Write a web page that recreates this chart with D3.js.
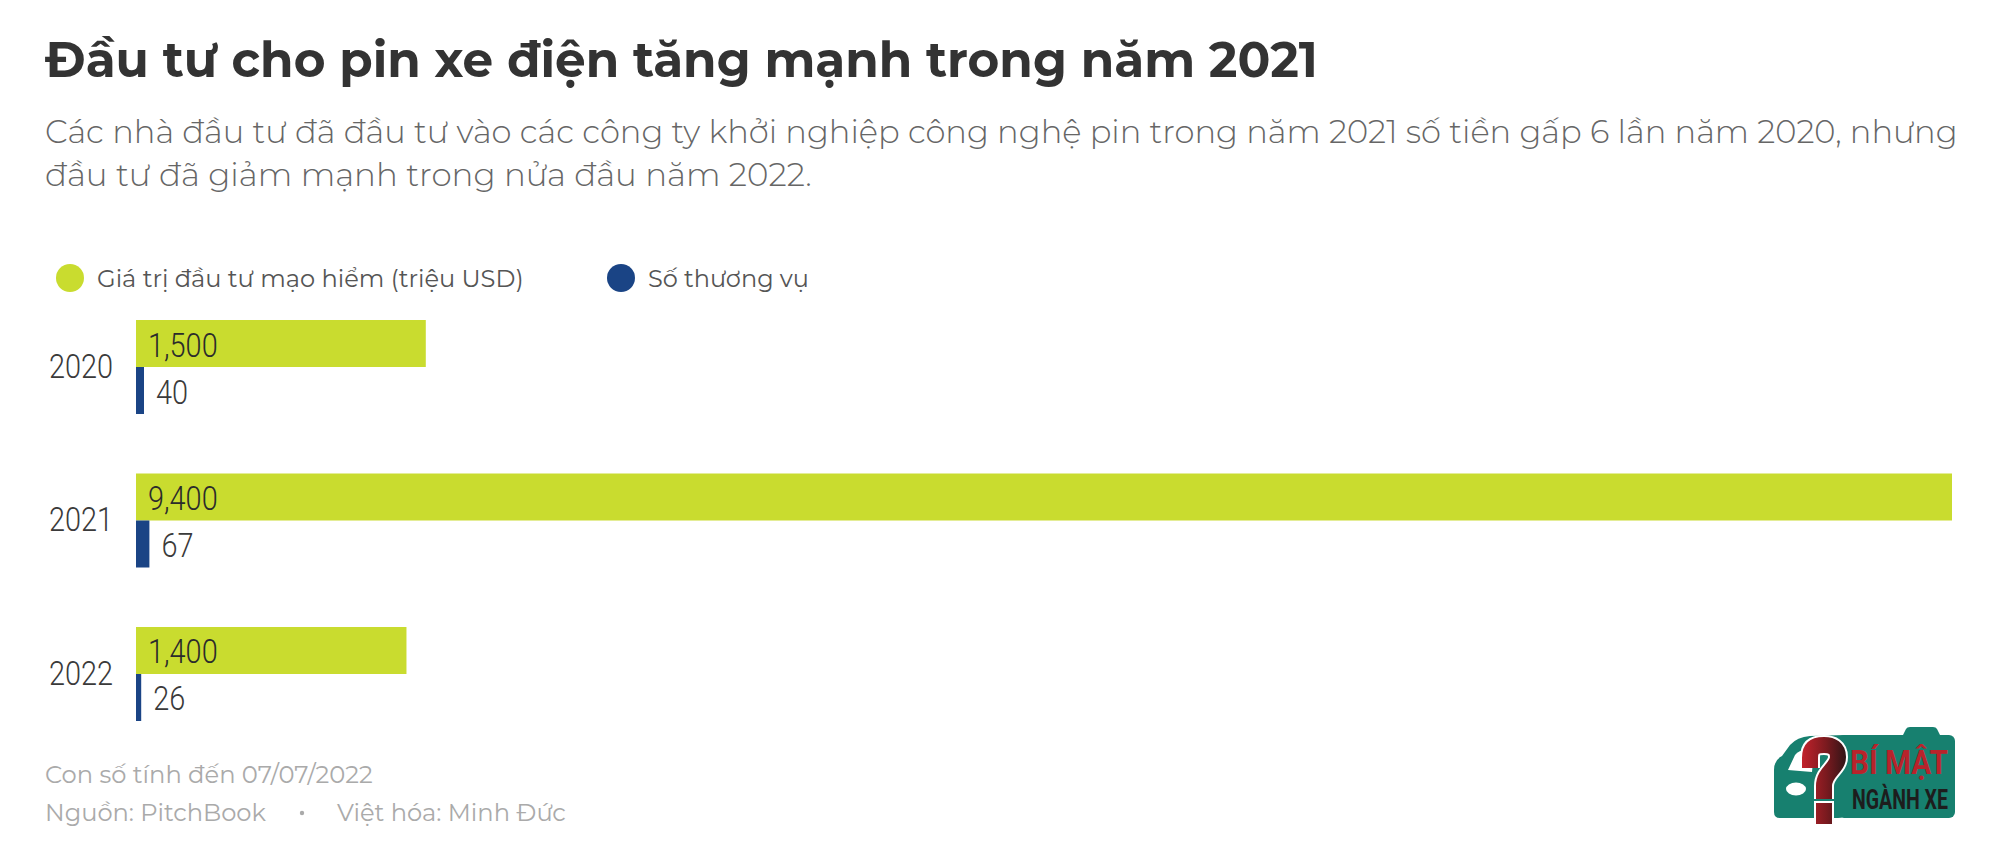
<!DOCTYPE html>
<html>
<head>
<meta charset="utf-8">
<script src="https://cdn.jsdelivr.net/npm/d3@7"></script>
<style>
  html, body { margin: 0; padding: 0; background: #fff; }
  svg { display: block; }
</style>
</head>
<body>
<svg id="chart" width="2000" height="857"></svg>
<script>
// ---------- DATA ----------
const years = ["2020", "2021", "2022"];
const investment = [1500, 9400, 1400];   // Giá trị đầu tư mạo hiểm (triệu USD)
const deals = [40, 67, 26];              // Số thương vụ
const seriesNames = ["Giá trị đầu tư mạo hiểm (triệu USD)", "Số thương vụ"];
const titleText = "Đầu tư cho pin xe điện tăng mạnh trong năm 2021";
const subtitleLines = [
  "Các nhà đầu tư đã đầu tư vào các công ty khởi nghiệp công nghệ pin trong năm 2021 số tiền gấp 6 lần năm 2020, nhưng",
  "đầu tư đã giảm mạnh trong nửa đầu năm 2022."
];
const footNote = "Con số tính đến 07/07/2022";
const sourceText = "Nguồn: PitchBook";
const creditText = "Việt hóa: Minh Đức";

// ---------- STYLE ----------
const GREEN = "#c9dc2f";
const BLUE = "#1a4485";
const headFont = "Montserrat, 'Open Sans', 'Noto Sans', sans-serif";
const numFont = "Roboto, 'Noto Sans', sans-serif";

const svg = d3.select("#chart");

function fit(sel, width) {
  const base = 40;
  sel.attr("font-size", base);
  const w = sel.node().getComputedTextLength();
  sel.attr("font-size", base * width / w);
  return sel;
}
// horizontally condense text glyphs by factor k
function squeeze(sel, k) {
  sel.each(function () {
    const w = this.getComputedTextLength();
    d3.select(this).attr("textLength", w * k).attr("lengthAdjust", "spacingAndGlyphs");
  });
  return sel;
}
function squeezeTo(sel, width) {
  sel.attr("textLength", width).attr("lengthAdjust", "spacingAndGlyphs");
  return sel;
}

// ---------- TITLE ----------
fit(svg.append("text")
  .attr("x", 45).attr("y", 77)
  .attr("font-family", headFont).attr("font-weight", 700)
  .attr("fill", "#333").text(titleText), 1273);

const subW = [1913, 767];
subtitleLines.forEach((t, i) => {
  fit(svg.append("text")
    .attr("x", 45).attr("y", 143 + i * 43)
    .attr("font-family", headFont).attr("font-weight", 300)
    .attr("fill", "#666").text(t), subW[i]);
});

// ---------- LEGEND ----------
const legendColors = [GREEN, BLUE];
const legendX = [70, 621];
const legendW = [427, 161];
seriesNames.forEach((n, i) => {
  svg.append("circle").attr("cx", legendX[i]).attr("cy", 278).attr("r", 14)
    .attr("fill", legendColors[i]);
  fit(svg.append("text")
    .attr("x", legendX[i] + 27).attr("y", 278)
    .attr("dominant-baseline", "central")
    .attr("font-family", headFont).attr("font-weight", 400)
    .attr("fill", "#555").text(n), legendW[i]);
});

// ---------- SCALES ----------
const x = d3.scaleLinear().domain([0, 9400]).range([136, 1952]);
const xd = d3.scaleLinear().domain([0, 100]).range([0, 20]);
const y = d3.scaleBand().domain(years).range([320, 721]).paddingInner(0.3876).paddingOuter(0);
const half = y.bandwidth() / 2;

const rows = years.map((yr, i) => ({ yr, inv: investment[i], deal: deals[i] }));

const g = svg.append("g");

g.selectAll("rect.inv").data(rows).join("rect")
  .attr("class", "inv")
  .attr("x", x(0)).attr("y", d => y(d.yr))
  .attr("width", d => x(d.inv) - x(0)).attr("height", half)
  .attr("fill", GREEN);

g.selectAll("rect.deal").data(rows).join("rect")
  .attr("class", "deal")
  .attr("x", x(0)).attr("y", d => y(d.yr) + half)
  .attr("width", d => xd(d.deal)).attr("height", half)
  .attr("fill", BLUE);

const NK = 0.85;
squeeze(g.selectAll("text.invl").data(rows).join("text")
  .attr("class", "invl")
  .attr("x", x(0) + 12).attr("y", d => y(d.yr) + half / 2 + 1)
  .attr("dominant-baseline", "central")
  .attr("font-family", numFont).attr("font-weight", 300).attr("font-size", 34)
  .attr("fill", "#2b2b2b")
  .text(d => d3.format(",")(d.inv)), NK);

squeeze(g.selectAll("text.dl").data(rows).join("text")
  .attr("class", "dl")
  .attr("x", d => x(0) + xd(d.deal) + 12).attr("y", d => y(d.yr) + half * 1.5 + 1)
  .attr("dominant-baseline", "central")
  .attr("font-family", numFont).attr("font-weight", 300).attr("font-size", 34)
  .attr("fill", "#3a3a3a")
  .text(d => d.deal), NK);

// year axis
const yAxis = d3.axisLeft(y).tickSize(0).tickPadding(0);
const ya = svg.append("g").attr("transform", "translate(113,0)").call(yAxis);
ya.select(".domain").remove();
squeeze(ya.selectAll("text")
  .attr("font-family", numFont).attr("font-weight", 300).attr("font-size", 34).attr("fill", "#3a3a3a"), NK);

// ---------- FOOTER ----------
fit(svg.append("text").attr("x", 45).attr("y", 783)
  .attr("font-family", headFont).attr("font-weight", 400)
  .attr("fill", "#aaa").text(footNote), 328);
fit(svg.append("text").attr("x", 45).attr("y", 821)
  .attr("font-family", headFont).attr("font-weight", 400)
  .attr("fill", "#aaa").text(sourceText), 221);
svg.append("circle").attr("cx", 302).attr("cy", 813).attr("r", 2.2).attr("fill", "#aaa");
fit(svg.append("text").attr("x", 337).attr("y", 821)
  .attr("font-family", headFont).attr("font-weight", 400)
  .attr("fill", "#aaa").text(creditText), 229);

// ---------- LOGO ----------
const defs = svg.append("defs");
const grad = defs.append("linearGradient").attr("id", "qgrad")
  .attr("gradientUnits", "userSpaceOnUse")
  .attr("x1", 1800).attr("y1", 0).attr("x2", 1848).attr("y2", 0);
grad.append("stop").attr("offset", "0%").attr("stop-color", "#c8232c");
grad.append("stop").attr("offset", "55%").attr("stop-color", "#7a1a1f");
grad.append("stop").attr("offset", "100%").attr("stop-color", "#2a1416");

const logo = svg.append("g");
const TEAL = "#17806f";
// roof bump
logo.append("path")
  .attr("d", "M1902,737 L1906,729 Q1907,727 1910,727 L1933,727 Q1936,727 1937,729 L1941,737 Z")
  .attr("fill", TEAL);
// main panel
logo.append("rect").attr("x", 1838).attr("y", 735).attr("width", 117).attr("height", 83).attr("rx", 6)
  .attr("fill", TEAL);
// car front
logo.append("path")
  .attr("d", "M1774,812 L1774,770 Q1774,760 1782,756 L1790,745 Q1797,737 1810,736 L1845,735 L1845,812 Q1845,818 1838,818 L1780,818 Q1774,818 1774,812 Z")
  .attr("fill", TEAL);
// window
logo.append("path")
  .attr("d", "M1788,770 L1795,755 Q1799,750 1806,750 L1814,750 L1812,772 Z")
  .attr("fill", "#fff");
// headlight
logo.append("ellipse").attr("cx", 1796).attr("cy", 789).attr("rx", 10).attr("ry", 6.5).attr("fill", "#fff");
// question mark symbol (drawn as a shape)
const qHook = "M1810,768 L1810,758 C1810,746 1817,745 1824,745 C1832,745 1838,748 1838,757 C1838,768 1824,772 1824,786 L1824,799";
logo.append("path").attr("d", qHook).attr("fill", "none")
  .attr("stroke", "#fff").attr("stroke-width", 20);
logo.append("rect").attr("x", 1814).attr("y", 801).attr("width", 20).attr("height", 25).attr("fill", "#fff");
logo.append("path").attr("d", qHook).attr("fill", "none")
  .attr("stroke", "url(#qgrad)").attr("stroke-width", 16);
logo.append("rect").attr("x", 1816).attr("y", 803).attr("width", 16).attr("height", 21).attr("fill", "url(#qgrad)");

squeezeTo(logo.append("text").attr("x", 1850).attr("y", 774)
  .attr("font-family", numFont).attr("font-weight", 700).attr("font-size", 34)
  .attr("fill", "#b8232b").text("BÍ MẬT"), 98);
squeezeTo(logo.append("text").attr("x", 1852).attr("y", 809)
  .attr("font-family", numFont).attr("font-weight", 700).attr("font-size", 27)
  .attr("fill", "#1d1d1d").text("NGÀNH XE"), 96);
</script>
</body>
</html>
